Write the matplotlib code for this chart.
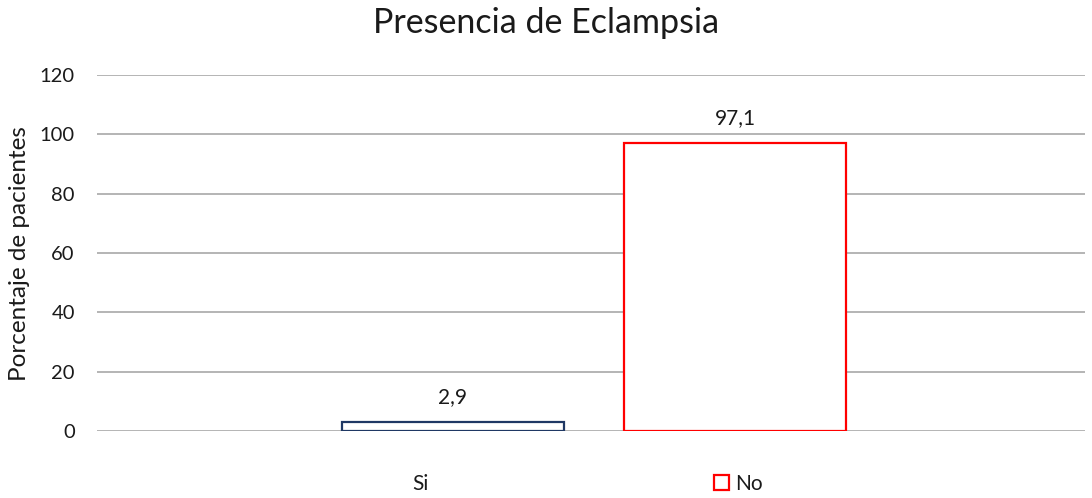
import matplotlib
matplotlib.use("Agg")
import matplotlib.pyplot as plt
from matplotlib.patches import Patch

# Data
categories = ["Si", "No"]
values = [2.9, 97.1]
value_labels = ["2,9", "97,1"]
edge_colors = ["#1F3864", "#FF0000"]
yticks = [0, 20, 40, 60, 80, 100, 120]

plt.rcParams["font.family"] = ["Lato", "DejaVu Sans"]
TXT = "#1a1a1a"

fig = plt.figure(figsize=(10.92, 4.98), dpi=100)
ax = fig.add_axes([97 / 1092, 67 / 498, 988 / 1092, 356 / 498])

x = list(range(len(categories)))
ax.bar(x, values, width=0.787, facecolor="white",
       edgecolor=edge_colors, linewidth=1.6, zorder=3)

for xi, v, lab in zip(x, values, value_labels):
    ax.annotate(lab, (xi, v), xytext=(0, 18), textcoords="offset points",
                ha="center", va="center", fontsize=15, color=TXT)

ax.set_xlim(-1.262, 2.241)
ax.set_ylim(0, 120)
ax.set_yticks(yticks)
ax.set_yticklabels([str(t) for t in yticks], fontsize=14.5, color=TXT)
ax.set_xticks([])
ax.tick_params(axis="y", length=0, pad=16)
ax.grid(axis="y", color="#A0A0A0", linewidth=1.1, zorder=0)
for s in ax.spines.values():
    s.set_visible(False)

fig.text(20 / 1092, 1 - 254 / 498, "Porcentaje de pacientes", rotation=90,
         ha="center", va="center", fontsize=17.5, color=TXT)

fig.text(0.5, 1 - 23 / 498, "Presencia de Eclampsia", ha="center", va="center",
         fontsize=24.5, color=TXT)

handles = [Patch(facecolor="white", edgecolor="none"),
           Patch(facecolor="white", edgecolor=edge_colors[1], linewidth=1.6)]
fig.legend(handles, categories, ncol=2, loc="center",
           bbox_to_anchor=(577 / 1092, 14 / 498), frameon=False,
           fontsize=15, handlelength=0.7, handleheight=0.7,
           handletextpad=0.3, columnspacing=13.7, labelcolor=TXT)

fig.savefig("out.png", dpi=100, facecolor="white")
